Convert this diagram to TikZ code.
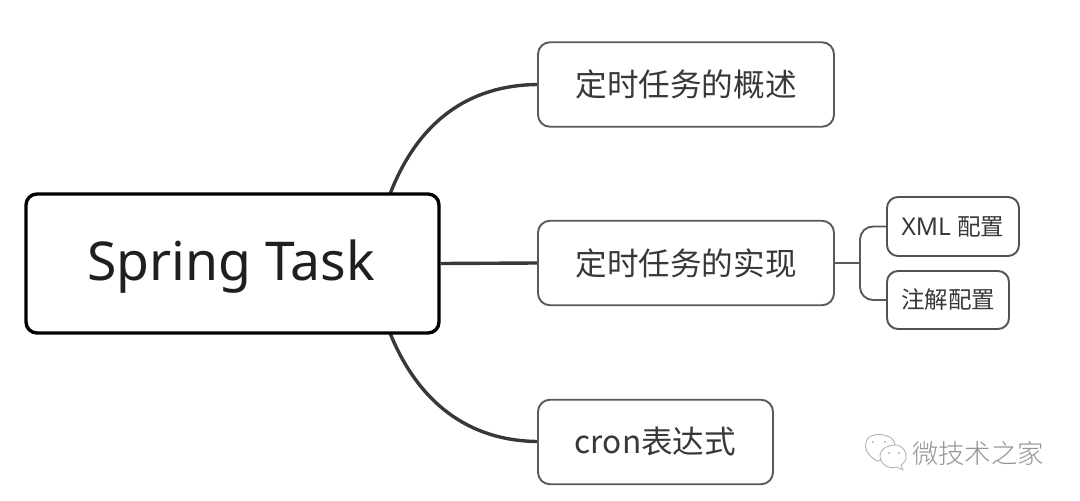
\documentclass[tikz,border=0pt]{standalone}
\usepackage{fontspec}
\setmainfont{Noto Sans}
\newfontfamily\cjk{Noto Sans CJK SC}
\newfontfamily\cjklight{Noto Sans CJK SC Light}
\tikzset{
  every picture/.style={x=1pt,y=-1pt,line join=round},
  rootbox/.style={draw=black,line width=3.4pt,rounded corners=11pt,fill=white,minimum width=413pt,minimum height=139pt,inner sep=0pt,text=black!88},
  topicbox/.style={draw=black!65,line width=1.9pt,rounded corners=12pt,fill=white,minimum height=84.5pt,inner sep=0pt,text=black!78},
  subbox/.style={draw=black!68,line width=1.9pt,rounded corners=11pt,fill=white,inner sep=0pt,text=black!78},
  mainlink/.style={draw=black!78,line width=3.4pt},
  sublink/.style={draw=black!65,line width=1.9pt},
  wm/.style={draw=black!32,line width=.8pt,fill=white},
}
\begin{document}
\begin{tikzpicture}
\useasboundingbox (0,0) rectangle (1080,501);
\coordinate (c1) at (390,194);
\coordinate (c2) at (390,333);
\coordinate (j) at (860,263);
\draw[mainlink] (c1) .. controls (418,122) and (468,85) .. (538,84.5);
\draw[mainlink] (c2) .. controls (418,402) and (468,441) .. (538,441.5);
\node[rootbox] (root) at (232.5,263.5) {};
\node[inner sep=0pt,text=black!88,font=\fontsize{53.5}{60}\selectfont] (rootlabel) at (231,266.5) {Spring Task};
\node[topicbox,minimum width=296pt,font=\cjk\fontsize{31.6}{36}\selectfont] (t1) at (686,84.5) {定时任务的概述};
\node[topicbox,minimum width=296pt,font=\cjk\fontsize{31.6}{36}\selectfont] (t2) at (686,263) {定时任务的实现};
\node[topicbox,minimum width=235pt,font=\cjk\fontsize{31.6}{36}\selectfont] (t3) at (655.5,442) {cron表达式};
\node[subbox,minimum width=132pt,minimum height=59pt,font=\fontsize{24.5}{28}\selectfont] (s1) at (953,226.5) {XML {\cjk\fontsize{23.5}{28}\selectfont 配置}};
\node[subbox,minimum width=122pt,minimum height=58pt,font=\cjk\fontsize{23.5}{28}\selectfont] (s2) at (948,300) {注解配置};
\draw[mainlink] (root.east) -- (t2.west);
\draw[sublink] (t2.east) -- (j);
\draw[sublink,rounded corners=13pt] (s1.west) -| (j) |- (s2.west);
% watermark
\draw[wm] (877,461) .. controls (868,456) and (864,448) .. (866,442) .. controls (868,434) and (880,433) .. (887,436) .. controls (894,438) and (896,444) .. (895,449) .. controls (890,458) and (884,460) .. (877,461) -- cycle;
\draw[wm] (897,467) .. controls (886,470) and (880,462) .. (880,456) .. controls (880,448) and (889,445) .. (895,445) .. controls (903,445) and (907,452) .. (906,458) .. controls (905,462) and (903,464) .. (901,465) -- (903,470) -- cycle;
\fill[black!30] (873,442) circle (1.2) (885,442) circle (1.2) (889,453) circle (1.2) (899,453) circle (1.2);
\node[inner sep=0pt,text=black!42,font=\cjklight\fontsize{26.4}{30}\selectfont] (wmtext) at (978,453) {微技术之家};
\end{tikzpicture}
\end{document}
